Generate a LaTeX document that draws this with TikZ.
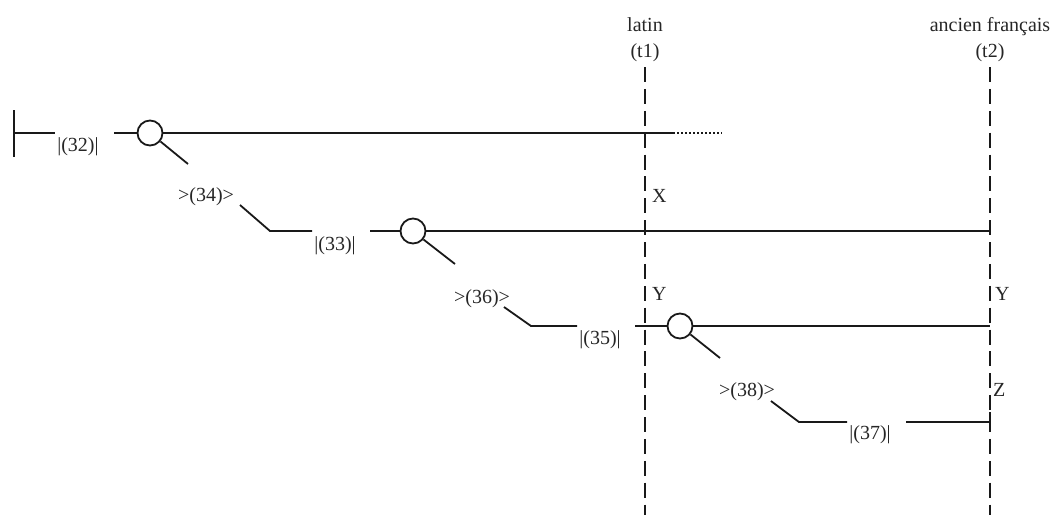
\documentclass[tikz,border=0pt]{standalone}
\usepackage{fontspec}
\setmainfont{Liberation Serif}
\begin{document}
\begin{tikzpicture}[x=1pt,y=-1pt,
  ln/.style={line width=1.8pt,color=black!90},
  dsh/.style={line width=1.8pt,color=black!90,dash pattern=on 15pt off 6.875pt},
  knot/.style={circle,draw=black!90,line width=1.8pt,fill=white,minimum size=25pt,inner sep=0pt},
  lbl/.style={anchor=base,inner sep=0pt,font=\fontsize{20}{24}\selectfont,text=black!85},
  side/.style={anchor=base west,inner sep=0pt,font=\fontsize{20}{24}\selectfont,text=black!85}]
\useasboundingbox (0,0) rectangle (1056,515);
% time lines
\coordinate (t1top) at (645,67);
\coordinate (t1bot) at (645,515);
\coordinate (t2top) at (990,67);
\coordinate (t2bot) at (990,515);
\draw[dsh] (t1top) -- (t1bot);
\draw[dsh] (t2top) -- (t2bot);
\node[lbl] (latin) at (645,31) {latin};
\node[lbl] (t1) at (645,57) {(t1)};
\node[lbl] (af) at (990,31) {ancien français};
\node[lbl] (t2) at (990,57) {(t2)};
% level 1
\coordinate (bartop) at (14,110);
\coordinate (barbot) at (14,157);
\coordinate (barmid) at (14,133);
\coordinate (barend) at (55,133);
\draw[ln] (bartop) -- (barbot);
\draw[ln] (barmid) -- (barend);
\node[lbl] (n32) at (78,151) {|(32)|};
\coordinate (a1) at (114,133);
\node[knot] (c1) at (150,133) {};
\coordinate (e1) at (673,133);
\coordinate (d1) at (722,133);
\coordinate (g1) at (188,164);
\draw[ln] (a1) -- (c1.west);
\draw[ln] (c1.east) -- (e1);
\draw[line width=1.8pt,color=black!90,dash pattern=on 2pt off 2pt] (e1) -- (d1);
\draw[ln] (c1.-39) -- (g1);
% level 2
\node[lbl] (n34) at (206,201) {>(34)>};
\coordinate (s2a) at (240,205);
\coordinate (s2b) at (270,231);
\coordinate (s2c) at (312,231);
\draw[ln] (s2a) -- (s2b) -- (s2c);
\node[lbl] (n33) at (335,250) {|(33)|};
\coordinate (a2) at (370,231);
\node[knot] (c2) at (413,231) {};
\coordinate (e2) at (990,231);
\coordinate (g2) at (455,264);
\draw[ln] (a2) -- (c2.west);
\draw[ln] (c2.east) -- (e2);
\draw[ln] (c2.-39) -- (g2);
\node[side] (x1) at (652,202) {X};
% level 3
\node[lbl] (n36) at (482,303) {>(36)>};
\coordinate (s3a) at (504,307);
\coordinate (s3b) at (531,326);
\coordinate (s3c) at (577,326);
\draw[ln] (s3a) -- (s3b) -- (s3c);
\node[lbl] (n35) at (600,344) {|(35)|};
\coordinate (a3) at (635,326);
\node[knot] (c3) at (680,326) {};
\coordinate (e3) at (990,326);
\coordinate (g3) at (720,358);
\draw[ln] (a3) -- (c3.west);
\draw[ln] (c3.east) -- (e3);
\draw[ln] (c3.-39) -- (g3);
\node[side] (y1) at (652,300) {Y};
\node[side] (y2) at (995,300) {Y};
% level 4
\node[lbl] (n38) at (747,396) {>(38)>};
\coordinate (s4a) at (771,401);
\coordinate (s4b) at (799,422);
\coordinate (s4c) at (847,422);
\draw[ln] (s4a) -- (s4b) -- (s4c);
\node[lbl] (n37) at (870,439) {|(37)|};
\coordinate (a4) at (906,422);
\coordinate (e4) at (990,422);
\draw[ln] (a4) -- (e4);
\coordinate (k4a) at (990,412);
\coordinate (k4b) at (990,432);
\draw[ln] (k4a) -- (k4b);
\node[side] (z1) at (993,396) {Z};
\end{tikzpicture}
\end{document}
